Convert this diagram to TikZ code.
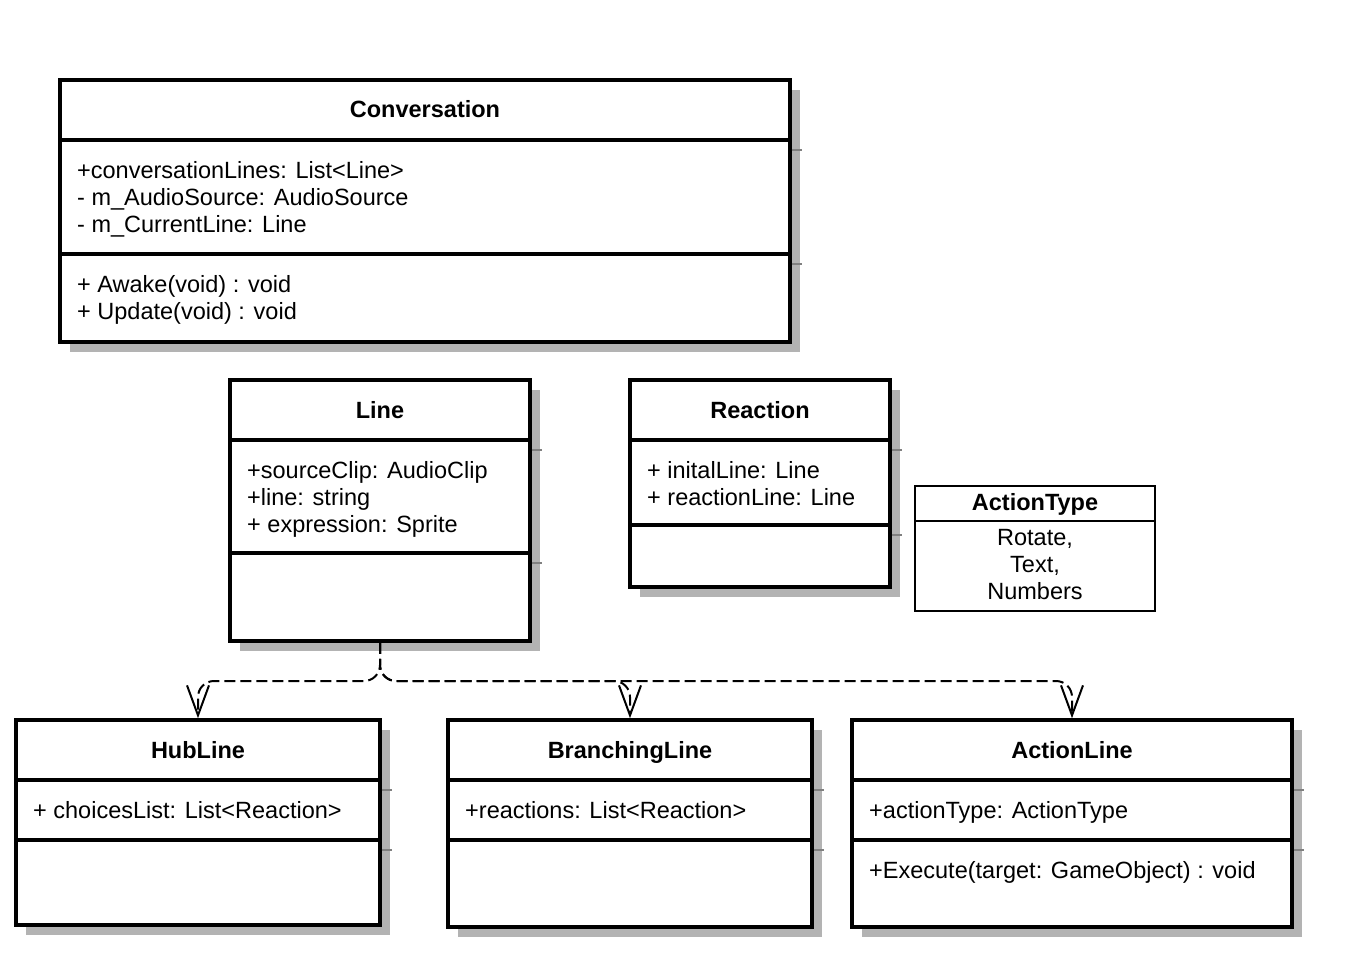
\documentclass[tikz,border=0pt]{standalone}
\usepackage{fontspec}
\setmainfont{Liberation Sans}
\usetikzlibrary{shadows, arrows.meta}
\definecolor{shadowgray}{RGB}{179,179,179}
\definecolor{tickgray}{RGB}{128,128,128}
\newcommand{\umlfont}{\fontsize{23.5}{27}\selectfont}
\tikzstyle{classbox} = [rectangle, draw=black, line width=3.5pt, fill=white, drop shadow={shadow xshift=10pt, shadow yshift=-10pt, fill=shadowgray, opacity=1}]
\tikzstyle{enumbox} = [rectangle, draw=black, line width=2pt, fill=white]
\tikzstyle{classname} = [font=\umlfont\bfseries, anchor=base, inner sep=0pt]
\tikzstyle{members} = [anchor=north west, align=left, inner sep=0pt]
\tikzstyle{divider} = [line width=3.5pt]
\tikzstyle{tick} = [tickgray, line width=1.5pt]
\tikzstyle{dep} = [dash pattern=on 11pt off 5pt, line width=2pt, rounded corners=16pt, -{Straight Barb[length=30pt, width=22pt, line width=2pt]}]

\begin{document}
\begin{tikzpicture}[x=1pt, y=-1pt, font=\umlfont]
    \useasboundingbox (0,0) rectangle (1348,968);
    % classes
    \node (conv) [classbox, minimum width=730pt, minimum height=262pt] at (425,211) {};
    \node (line) [classbox, minimum width=300pt, minimum height=261pt] at (380,510.5) {};
    \node (react) [classbox, minimum width=260pt, minimum height=207pt] at (760,483.5) {};
    \node (hub) [classbox, minimum width=364pt, minimum height=205pt] at (198,822.5) {};
    \node (branch) [classbox, minimum width=364pt, minimum height=207pt] at (630,823.5) {};
    \node (action) [classbox, minimum width=440pt, minimum height=207pt] at (1072,823.5) {};
    \node (atype) [enumbox, minimum width=240pt, minimum height=125pt] at (1035,548.5) {};

    % compartments
    \draw [divider] (conv.west |- 0,140) -- (conv.east |- 0,140);
    \draw [divider] (conv.west |- 0,254) -- (conv.east |- 0,254);
    \draw [divider] (line.west |- 0,440) -- (line.east |- 0,440);
    \draw [divider] (line.west |- 0,553) -- (line.east |- 0,553);
    \draw [divider] (react.west |- 0,440) -- (react.east |- 0,440);
    \draw [divider] (react.west |- 0,525) -- (react.east |- 0,525);
    \foreach \n in {hub, branch, action} {
        \draw [divider] (\n.west |- 0,780) -- (\n.east |- 0,780);
        \draw [divider] (\n.west |- 0,840) -- (\n.east |- 0,840);
        \draw [tick] (\n.east |- 0,790) -- ++(10,0);
        \draw [tick] (\n.east |- 0,850) -- ++(10,0);
    }
    \draw [line width=2pt] (atype.west |- 0,521) -- (atype.east |- 0,521);
    \draw [tick] (conv.east |- 0,150) -- ++(10,0);
    \draw [tick] (conv.east |- 0,264) -- ++(10,0);
    \draw [tick] (line.east |- 0,450) -- ++(10,0);
    \draw [tick] (line.east |- 0,563) -- ++(10,0);
    \draw [tick] (react.east |- 0,450) -- ++(10,0);
    \draw [tick] (react.east |- 0,535) -- ++(10,0);

    % names
    \node (convname) [classname] at (conv.north |- 0,118) {Conversation};
    \node (linename) [classname] at (line.north |- 0,418) {Line};
    \node (reactname) [classname] at (react.north |- 0,418) {Reaction};
    \node (hubname) [classname] at (hub.north |- 0,758) {HubLine};
    \node (branchname) [classname] at (branch.north |- 0,758) {BranchingLine};
    \node (actionname) [classname] at (action.north |- 0,758) {ActionLine};
    \node (atypename) [classname] at (atype.north |- 0,510) {ActionType};

    % attributes and operations
    \node (convattr) [members] at (77,161) {+conversationLines: List<Line>\\- m\_AudioSource: AudioSource\\- m\_CurrentLine: Line};
    \node (convops) [members] at (77,275) {+ Awake(void) : void\\+ Update(void) : void};
    \node (lineattr) [members] at (247,461) {+sourceClip: AudioClip\\+line: string\\+ expression: Sprite};
    \node (reactattr) [members] at (647,461) {+ initalLine: Line\\+ reactionLine: Line};
    \node (hubattr) [members] at (33,801) {+ choicesList: List<Reaction>};
    \node (branchattr) [members] at (465,801) {+reactions: List<Reaction>};
    \node (actionattr) [members] at (869,801) {+actionType: ActionType};
    \node (actionops) [members] at (869,861) {+Execute(target: GameObject) : void};
    \node (atypevals) [anchor=north, align=center, inner sep=0pt] at (1035,529) {Rotate,\\Text,\\Numbers};

    % dependencies
    \coordinate (split) at (380,681);
    \draw [dep] (line.south) |- (split -| hub.north) -- (hub.north);
    \draw [dep] (line.south) |- (split -| branch.north) -- (branch.north);
    \draw [dep] (line.south) |- (split -| action.north) -- (action.north);
\end{tikzpicture}
\end{document}
